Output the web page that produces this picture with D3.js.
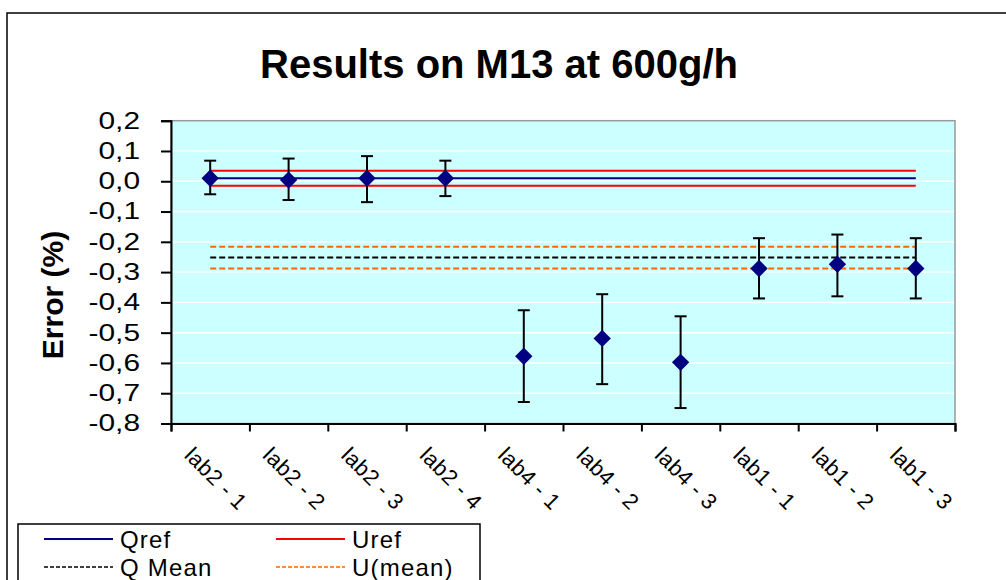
<!DOCTYPE html>
<meta charset="utf-8">
<head>
  <script src="https://d3js.org/d3.v7.min.js"></script>
</head>
<style>
  body { margin: 0; background: #fff; }
  svg { font-family: "Liberation Sans", Arial, sans-serif; display: block; }
</style>
<body></body>
<script>
  // data
  var labels = ["lab2 - 1", "lab2 - 2", "lab2 - 3", "lab2 - 4", "lab4 - 1", "lab4 - 2", "lab4 - 3", "lab1 - 1", "lab1 - 2", "lab1 - 3"];
  var values = [0.010, 0.004, 0.010, 0.010, -0.578, -0.519, -0.598, -0.288, -0.274, -0.288];
  var errLow = [0.053, 0.066, 0.079, 0.059, 0.151, 0.151, 0.151, 0.099, 0.106, 0.099];
  var errHigh = [0.058, 0.071, 0.073, 0.058, 0.152, 0.146, 0.152, 0.100, 0.098, 0.100];
  var qref = 0.010, uref = 0.025;
  var qmean = -0.252, umean = 0.036;
  var yTickValues = [0.2, 0.1, 0.0, -0.1, -0.2, -0.3, -0.4, -0.5, -0.6, -0.7, -0.8];
  var yTickLabels = ["0,2", "0,1", "0,0", "-0,1", "-0,2", "-0,3", "-0,4", "-0,5", "-0,6", "-0,7", "-0,8"];

  var width = 1006, height = 580;
  var pLeft = 171, pRight = 955, pTop = 120.7, pBottom = 423.5;

  var svg = d3.select("body").append("svg")
      .attr("width", width)
      .attr("height", height);

  // outer chart frame (runs off the picture at right and bottom)
  svg.append("rect")
      .attr("x", 7).attr("y", 13)
      .attr("width", 1010).attr("height", 580)
      .attr("fill", "#fff")
      .attr("stroke", "#000")
      .attr("stroke-width", 1.5);

  var y = d3.scaleLinear().domain([-0.8, 0.2]).range([pBottom, pTop]);
  var xb = d3.scaleLinear().domain([0, labels.length]).range([pLeft, pRight]);
  var xc = function(i) { return xb(i + 0.5); };

  // plot background
  svg.append("rect")
      .attr("x", pLeft).attr("y", pTop)
      .attr("width", pRight - pLeft).attr("height", pBottom - pTop)
      .attr("fill", "#ccffff")
      .attr("stroke", "#999")
      .attr("stroke-width", 1.5);

  // gridlines
  svg.append("g").selectAll("line")
      .data(yTickValues.slice(1, -1))
      .join("line")
      .attr("x1", pLeft + 1).attr("x2", pRight - 1)
      .attr("y1", d => y(d)).attr("y2", d => y(d))
      .attr("stroke", "#fff")
      .attr("stroke-width", 1.5);

  // reference lines
  var x0 = xc(0), x1 = xc(labels.length - 1);
  function hline(v, color, dash) {
    svg.append("line")
        .attr("x1", x0).attr("x2", x1)
        .attr("y1", y(v)).attr("y2", y(v))
        .attr("stroke", color)
        .attr("stroke-width", 2)
        .attr("stroke-dasharray", dash);
  }
  hline(qref + uref, "#ff0000", null);
  hline(qref - uref, "#ff0000", null);
  hline(qref, "#000080", null);
  hline(qmean + umean, "#ff6600", "6,3");
  hline(qmean - umean, "#ff6600", "6,3");
  hline(qmean, "#000", "6,3");

  // axes
  var yAxis = svg.append("g")
      .attr("transform", "translate(" + pLeft + ",0)")
      .call(d3.axisLeft(y).tickValues(yTickValues).tickSize(10).tickPadding(20)
        .tickFormat((d, i) => yTickLabels[i]));
  // the labels in the picture are drawn wide, so stretch them sideways
  yAxis.selectAll("text")
      .attr("font-size", 23)
      .attr("fill", "#000")
      .attr("font-family", "Liberation Sans, Arial, sans-serif")
      .attr("x", -31 / 1.3)
      .attr("transform", "scale(1.3,1)");
  yAxis.selectAll("line, path").attr("stroke", "#000").attr("stroke-width", 2);

  var xAxis = svg.append("g")
      .attr("transform", "translate(0," + pBottom + ")")
      .call(d3.axisBottom(xb).tickValues(d3.range(labels.length + 1)).tickSize(8).tickFormat(""));
  xAxis.selectAll("line, path").attr("stroke", "#000").attr("stroke-width", 2);

  svg.append("g").selectAll("text")
      .data(labels)
      .join("text")
      .attr("transform", (d, i) => "translate(" + (xc(i) - 27) + "," + (pBottom + 33) + ") rotate(45)")
      .attr("font-size", 22)
      .attr("letter-spacing", 0.5)
      .text(d => d);

  // error bars
  var eb = svg.append("g").attr("stroke", "#000").attr("stroke-width", 2);
  values.forEach(function(v, i) {
    var cx = xc(i), yt = y(v + errHigh[i]), yl = y(v - errLow[i]);
    eb.append("line").attr("x1", cx).attr("x2", cx).attr("y1", yt).attr("y2", yl);
    eb.append("line").attr("x1", cx - 6).attr("x2", cx + 6).attr("y1", yt).attr("y2", yt);
    eb.append("line").attr("x1", cx - 6).attr("x2", cx + 6).attr("y1", yl).attr("y2", yl);
  });

  // diamond markers
  svg.append("g").selectAll("path")
      .data(values)
      .join("path")
      .attr("d", d3.symbol().type(d3.symbolSquare).size(150))
      .attr("transform", (d, i) => "translate(" + xc(i) + "," + y(d) + ") rotate(45)")
      .attr("fill", "#000080");

  // titles
  svg.append("text")
      .attr("x", 499).attr("y", 78)
      .attr("text-anchor", "middle")
      .attr("font-size", 40)
      .attr("font-weight", "bold")
      .text("Results on M13 at 600g/h");

  svg.append("text")
      .attr("transform", "translate(63,295) rotate(-90)")
      .attr("text-anchor", "middle")
      .attr("font-size", 30)
      .attr("font-weight", "bold")
      .text("Error (%)");

  // legend
  var legend = svg.append("g");
  legend.append("rect")
      .attr("x", 18).attr("y", 524)
      .attr("width", 462).attr("height", 80)
      .attr("fill", "#fff")
      .attr("stroke", "#000")
      .attr("stroke-width", 1.5);
  var items = [
    {name: "Qref", color: "#000080", dash: null, x: 44, y: 539},
    {name: "Uref", color: "#ff0000", dash: null, x: 276, y: 539},
    {name: "Q Mean", color: "#000", dash: "4,2", x: 44, y: 567},
    {name: "U(mean)", color: "#ff6600", dash: "4,2", x: 276, y: 567}
  ];
  items.forEach(function(it) {
    legend.append("line")
        .attr("x1", it.x).attr("x2", it.x + 69)
        .attr("y1", it.y).attr("y2", it.y)
        .attr("stroke", it.color)
        .attr("stroke-width", it.dash ? 1.5 : 2)
        .attr("stroke-dasharray", it.dash);
    legend.append("text")
        .attr("x", it.x + 76).attr("y", it.y + 9)
        .attr("font-size", 24)
        .attr("letter-spacing", 1.2)
        .text(it.name);
  });
</script>
